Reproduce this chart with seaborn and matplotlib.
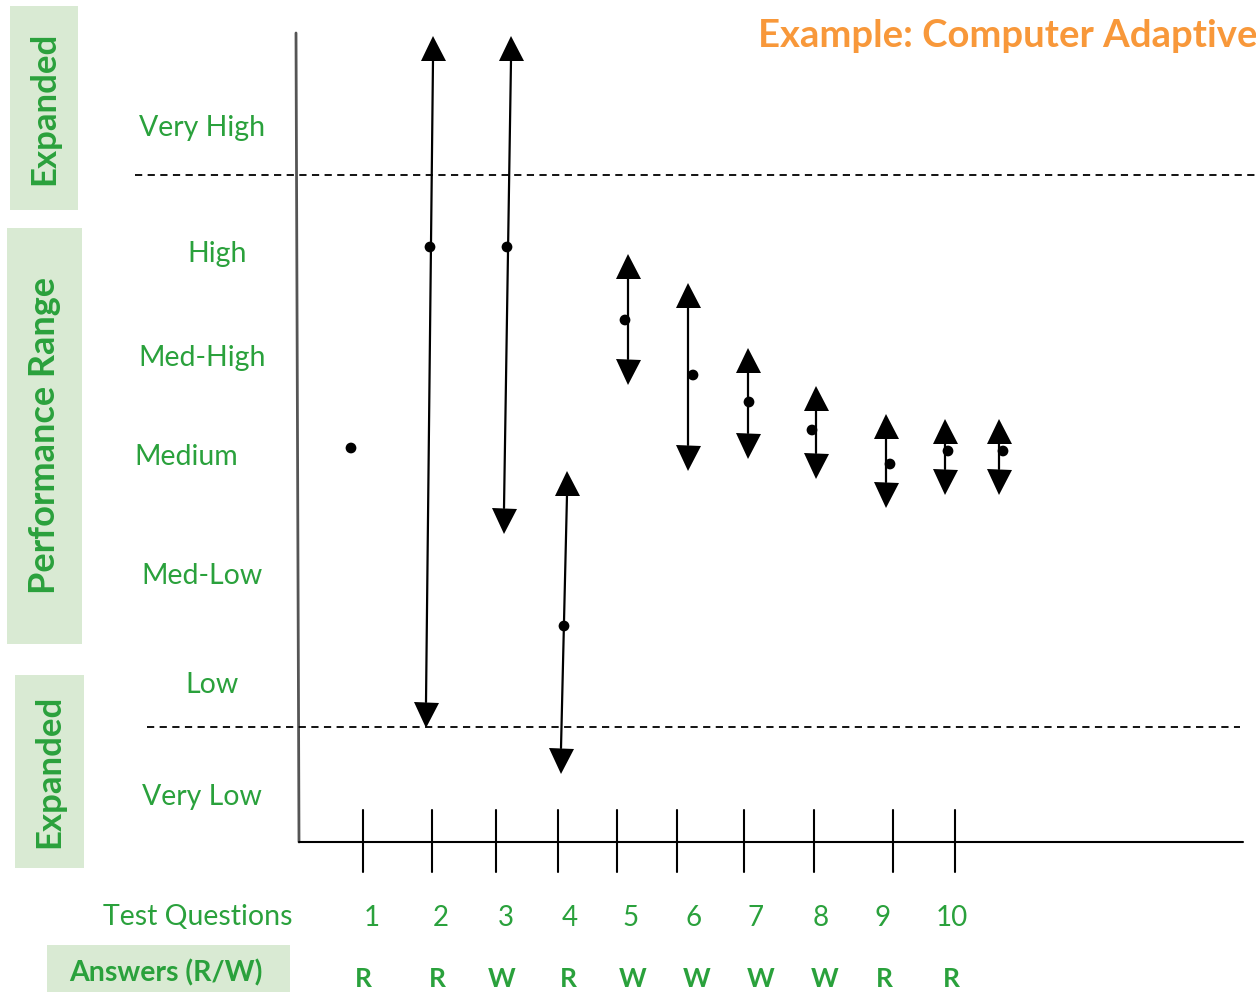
import matplotlib
matplotlib.use("Agg")
import matplotlib.pyplot as plt
import matplotlib.patches as mpatches
import seaborn as sns

sns.set_theme(style="white")
plt.rcParams['font.family'] = ['Lato', 'DejaVu Sans']

GREEN = '#2aa13c'
BOX = '#d9ead3'
ORANGE = '#f8983a'

# performance levels (label, vertical position on the diagram scale)
level_labels = ['Very High', 'High', 'Med-High', 'Medium', 'Med-Low', 'Low', 'Very Low']
level_y = [128, 254, 358, 457, 576, 685, 797]
level_x = [202, 217, 202, 186, 202, 212, 202]

# questions and answers
question_labels = ['1', '2', '3', '4', '5', '6', '7', '8', '9', '10']
question_tick_x = [363, 432, 496, 558, 617, 677, 744, 814, 893, 955]
question_label_x = [372, 441, 506, 570, 631, 694, 756, 821, 883, 952]
answers = ['R', 'R', 'W', 'R', 'W', 'W', 'W', 'W', 'R', 'R']
answer_x = [363, 437, 502, 568, 633, 697, 761, 825, 884, 951]

# ability estimate after each step
est_x = [351, 430, 507, 564, 625, 693, 749, 812, 890, 948, 1003]
est_y = [448, 247, 247, 626, 320, 375, 402, 430, 464, 451, 451]

# uncertainty range (arrow tips)
arrow_x_top = [433, 511, 567, 628, 688, 748, 816, 886, 945, 999]
arrow_y_top = [35, 35, 470, 253, 282, 347, 385, 413, 418, 418]
arrow_x_bot = [426, 504, 561, 628, 688, 748, 816, 886, 945, 999]
arrow_y_bot = [727, 533, 773, 384, 470, 458, 478, 507, 494, 494]

# band boundaries
upper_boundary = 175
lower_boundary = 727

fig = plt.figure(figsize=(12.56, 9.92), dpi=100)
ax = fig.add_axes([0, 0, 1, 1])
ax.set_xlim(0, 1256)
ax.set_ylim(992, 0)
ax.axis('off')

# side boxes
boxes = [(10, 6, 68, 204, 'Expanded', 25),
         (7, 228, 75, 416, 'Performance Range', 26),
         (15, 675, 69, 193, 'Expanded', 25)]
for x0, y0, w, h, txt, fs in boxes:
    ax.add_patch(mpatches.Rectangle((x0, y0), w, h, color=BOX, lw=0))
    ax.text(x0 + w / 2, y0 + h / 2, txt, rotation=90, ha='center', va='center',
            color=GREEN, fontsize=fs, fontweight='bold')
ax.add_patch(mpatches.Rectangle((47, 945), 243, 47, color=BOX, lw=0))

# axes lines
ax.plot([296, 299], [33, 842], color='#555555', lw=2)
ax.plot([299, 1243], [842, 842], color='black', lw=1.5)
for x in question_tick_x:
    ax.plot([x, x], [810, 872], color='black', lw=1.5)

# dashed boundaries
ax.plot([135, 1256], [upper_boundary, upper_boundary], color='black', lw=1.3, ls=(0, (4, 3)))
ax.plot([147, 1240], [lower_boundary, lower_boundary], color='black', lw=1.3, ls=(0, (4, 3)))

# arrows
head = 25
for xt, yt, xb, yb in zip(arrow_x_top, arrow_y_top, arrow_x_bot, arrow_y_bot):
    ax.plot([xt, xb], [yt + head, yb - head], color='black', lw=1.6)
    ax.plot(xt, yt + head / 2, marker='^', ms=18, color='black', mew=0)
    ax.plot(xb, yb - head / 2, marker='v', ms=18, color='black', mew=0)

sns.scatterplot(x=est_x, y=est_y, color='black', s=60, edgecolor='none', ax=ax, zorder=5)

# level labels
for lab, x, y in zip(level_labels, level_x, level_y):
    ax.text(x, y, lab, ha='center', va='center', color=GREEN, fontsize=20.5)

ax.text(198, 917, 'Test Questions', ha='center', va='center', color=GREEN, fontsize=20.5)
for lab, x in zip(question_labels, question_label_x):
    ax.text(x, 918, lab, ha='center', va='center', color=GREEN, fontsize=20)
ax.text(166, 973, 'Answers (R/W)', ha='center', va='center', color=GREEN, fontsize=20.5,
        fontweight='bold')
for lab, x in zip(answers, answer_x):
    ax.text(x, 979, lab, ha='center', va='center', color=GREEN, fontsize=19, fontweight='bold')

ax.text(758, 36, 'Example: Computer Adaptive', ha='left', va='center', color=ORANGE,
        fontsize=27.5, fontweight='bold')

fig.savefig('out.png', dpi=100)
